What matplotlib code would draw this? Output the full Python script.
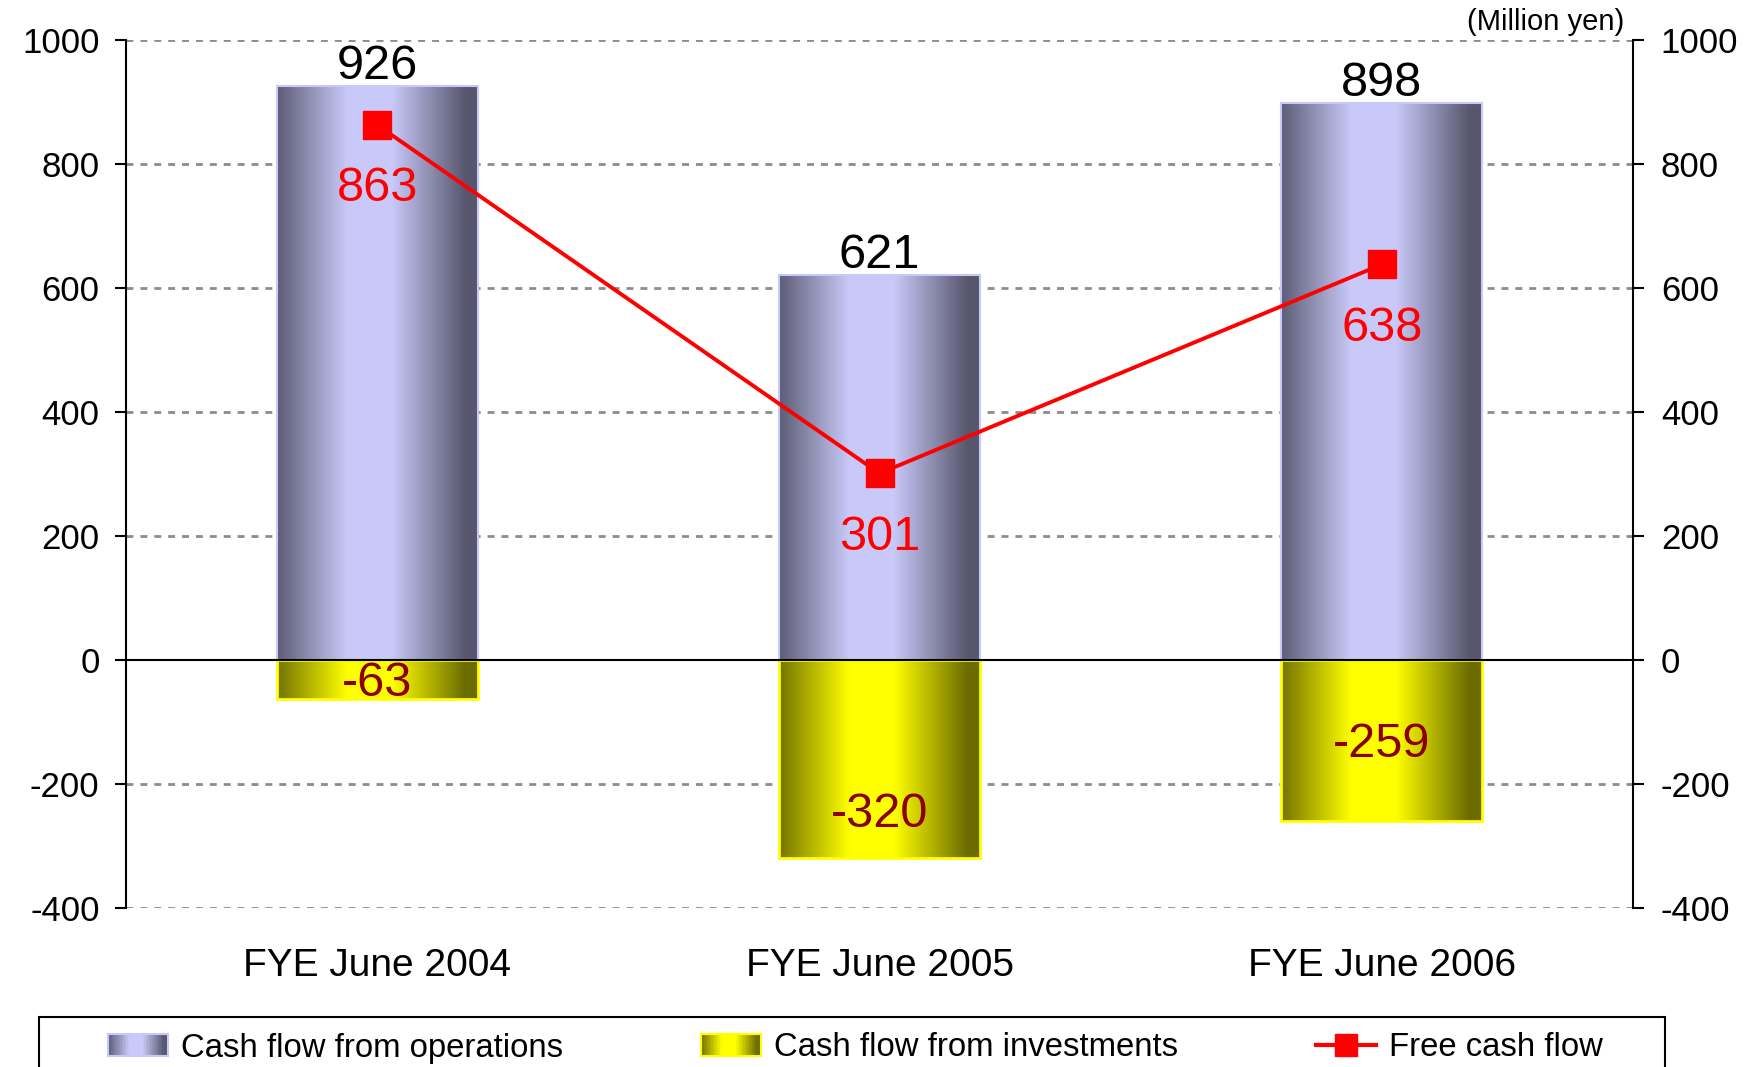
import numpy as np
import matplotlib
matplotlib.use("Agg")
import matplotlib.pyplot as plt
from matplotlib.patches import Rectangle
from matplotlib.legend_handler import HandlerBase
from matplotlib.lines import Line2D

# ---------------- data ----------------
categories = ["FYE June 2004", "FYE June 2005", "FYE June 2006"]
operations = [926, 621, 898]
investments = [-63, -320, -259]
free_cf = [863, 301, 638]
yticks = [-400, -200, 0, 200, 400, 600, 800, 1000]
series_names = ["Cash flow from operations", "Cash flow from investments", "Free cash flow"]
unit_label = "(Million yen)"

# ---------------- style ----------------
plt.rcParams['font.family'] = ['Liberation Sans', 'DejaVu Sans']
BLUE_DARK, BLUE_LIGHT, BLUE_EDGE = np.array([0.34, 0.34, 0.43]), np.array([0.79, 0.79, 0.98]), "#c8c8ff"
YEL_DARK, YEL_LIGHT, YEL_EDGE = np.array([0.42, 0.42, 0.0]), np.array([1.0, 1.0, 0.0]), "#ffff00"
neg_label_offsets = [-3, -40, -3]  # points


def grad_colors(dark, light, n=256):
    s = np.linspace(0, 1, n)
    t = np.clip((1 - np.abs(s - 0.46) / 0.48) * 1.3, 0, 1)
    return dark[None, :] * (1 - t[:, None]) + light[None, :] * t[:, None]


def draw_grad_bars(ax, bars, dark, light, edge, lw):
    cols = grad_colors(dark, light)[None, :, :]
    for b in bars:
        x0, y0 = b.get_x(), b.get_y()
        w, h = b.get_width(), b.get_height()
        ax.imshow(cols, extent=(x0, x0 + w, min(y0, y0 + h), max(y0, y0 + h)),
                  aspect='auto', zorder=2, interpolation='bilinear')
        b.set_facecolor('none')
        b.set_edgecolor(edge)
        b.set_linewidth(lw)
        b.set_zorder(3)


class GradHandler(HandlerBase):
    def __init__(self, dark, light, edge):
        super().__init__()
        self.dark, self.light, self.edge = dark, light, edge

    def create_artists(self, legend, orig_handle, xdescent, ydescent, width, height, fontsize, trans):
        n = 40
        cols = grad_colors(self.dark, self.light, n)
        arts = []
        for i in range(n):
            arts.append(Rectangle((-xdescent + i * width / n, -ydescent), width / n * 1.1, height,
                                  facecolor=cols[i], edgecolor='none', transform=trans))
        arts.append(Rectangle((-xdescent, -ydescent), width, height, facecolor='none',
                              edgecolor=self.edge, lw=1.5, transform=trans))
        return arts


fig = plt.figure(figsize=(17.6, 10.67), dpi=100)
ax = fig.add_axes([126 / 1760, 1 - 908 / 1067, (1633 - 126) / 1760, (908 - 40) / 1067])
x = np.arange(len(categories))
width = 0.4

ax.set_xlim(-0.5, len(categories) - 0.5)
ax.set_ylim(yticks[0], yticks[-1])

# grid
for v in yticks:
    if v != 0:
        ax.axhline(v, color='#8c8c8c', lw=2.0, ls=(0, (2.5, 2.5)), zorder=1)

bars_op = ax.bar(x, operations, width=width)
bars_inv = ax.bar(x, investments, width=width)
draw_grad_bars(ax, bars_op, BLUE_DARK, BLUE_LIGHT, BLUE_EDGE, 1.5)
draw_grad_bars(ax, bars_inv, YEL_DARK, YEL_LIGHT, YEL_EDGE, 2.0)

ax.axhline(0, color='black', lw=1.5, zorder=4)

ax.plot(x, free_cf, color='red', lw=2.8, marker='s', ms=20, zorder=6)

# labels
for xi, v in zip(x, operations):
    ax.annotate(f"{v}", (xi, v), xytext=(0, 5), textcoords='offset points',
                ha='center', va='baseline', fontsize=35, color='black', zorder=7)
for xi, v, off in zip(x, investments, neg_label_offsets):
    ax.annotate(f"{v}", (xi, v / 2), xytext=(0, off), textcoords='offset points',
                ha='center', va='center', fontsize=35, color='#8b0000', zorder=7)
for xi, v in zip(x, free_cf):
    ax.annotate(f"{v}", (xi, v), xytext=(0, -46), textcoords='offset points',
                ha='center', va='center', fontsize=35, color='red', zorder=7)

ax.set_xticks(x)
ax.set_xticklabels(categories, fontsize=28)
ax.tick_params(axis='x', length=0, pad=29)
ax.set_yticks(yticks)
ax.set_yticklabels([f"{v}" for v in yticks], fontsize=25)
ax.tick_params(axis='y', direction='out', length=8, width=1.5, pad=11)

ax2 = ax.twinx()
ax2.set_ylim(ax.get_ylim())
ax2.set_yticks(yticks)
ax2.set_yticklabels([f"{v}" for v in yticks], fontsize=25)
ax2.tick_params(axis='y', direction='out', length=8, width=1.5, pad=12)

for a in (ax, ax2):
    a.spines['top'].set_visible(False)
    a.spines['bottom'].set_visible(False)
ax.spines['right'].set_visible(False)
ax2.spines['left'].set_visible(False)
ax.spines['left'].set_linewidth(1.5)
ax2.spines['right'].set_linewidth(1.5)

fig.text(1624 / 1760, 1 - 22 / 1067, unit_label, ha='right', va='center', fontsize=21)

# legend
h_op = Rectangle((0, 0), 1, 1)
h_inv = Rectangle((0, 0), 1, 1)
h_fcf = Line2D([], [], color='red', lw=3, marker='s', ms=16)
fig.legend([h_op, h_inv, h_fcf], series_names,
           handler_map={h_op: GradHandler(BLUE_DARK, BLUE_LIGHT, BLUE_EDGE),
                        h_inv: GradHandler(YEL_DARK, YEL_LIGHT, YEL_EDGE)},
           loc='center', bbox_to_anchor=(0.486, 1 - 1048 / 1067), ncol=3, frameon=False,
           fontsize=23.7, handlelength=1.84, handleheight=0.63, handletextpad=0.39,
           columnspacing=4.17)
fig.add_artist(Rectangle((39 / 1760, -0.05), (1665 - 39) / 1760, 0.05 + (1067 - 1017) / 1067,
                         transform=fig.transFigure, fill=False, edgecolor='black', lw=1.5))

fig.savefig("out.png", dpi=100)
